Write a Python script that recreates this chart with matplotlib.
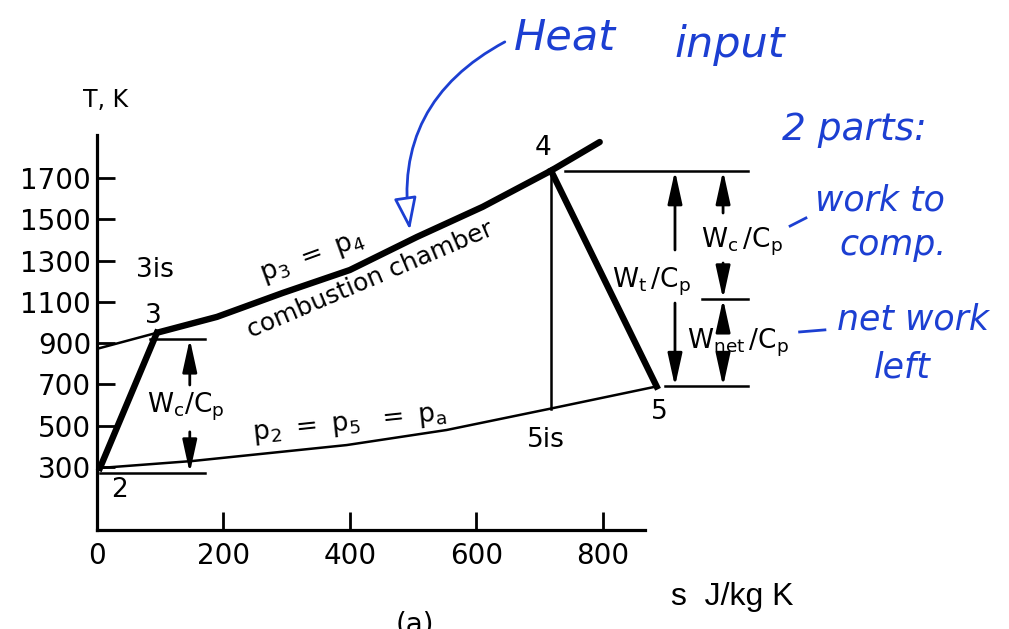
import numpy as np
import matplotlib.pyplot as plt

# gas turbine cycle on T-s axes
# constant pressure line p3 = p4 (first two points: 3is -> 3, thin part)
s_high = [5, 95, 190, 294, 400, 506, 610, 718, 795]
T_high = [876, 950, 1027, 1143, 1254, 1414, 1560, 1735, 1874]
# constant pressure line p2 = p5 = pa
s_low = [5, 152, 395, 553, 718, 885]
T_low = [295, 329, 406, 479, 583, 690]

# states
s_2, T_2 = 5, 295
s_3, T_3 = 95, 950
s_4, T_4 = 718, 1735
s_5, T_5 = 885, 690
s_5is, T_5is = 718, 583
T_3line = 920      # level line drawn at state 3
T_2line = 271      # level line drawn at state 2
T_split = 1114     # Wc / Wnet split on the right

xticks = [0, 200, 400, 600, 800]
yticks = [300, 500, 700, 900, 1100, 1300, 1500, 1700]

blue = '#1c3fd2'
thin = 1.8
thick = 4.6

fig = plt.figure(figsize=(10.09, 6.29), dpi=100)
ax = fig.add_axes([0, 0, 1, 1])
ax.set_xlim(-153, 1442)
ax.set_ylim(-485, 2562)

# axes drawn as spines crossing at the origin
for side in ['top', 'right']:
    ax.spines[side].set_visible(False)
ax.spines['left'].set_position(('data', 0))
ax.spines['bottom'].set_position(('data', -5))
ax.spines['left'].set_bounds(-5, 1908)
ax.spines['bottom'].set_bounds(0, 866)
ax.spines['left'].set_linewidth(2.3)
ax.spines['bottom'].set_linewidth(2.3)
ax.set_xticks(xticks)
ax.set_yticks(yticks)
ax.tick_params(direction='in', length=13, width=2, labelsize=20)
ax.tick_params(axis='y', pad=4)
ax.tick_params(axis='x', pad=9)

# cycle lines
ax.plot(s_high[:2], T_high[:2], color='k', lw=thin)
ax.plot(s_high[1:], T_high[1:], color='k', lw=thick, solid_capstyle='round')
ax.plot(s_low, T_low, color='k', lw=thin)
ax.plot([s_2, s_3], [T_2, T_3], color='k', lw=thick)
ax.plot([s_4, s_5], [T_4, T_5], color='k', lw=thick)
ax.plot([s_4, s_5is], [T_4, T_5is], color='k', lw=thin)

# level lines for the work arrows
ax.plot([84, 171], [T_3line, T_3line], color='k', lw=thin)
ax.plot([5, 171], [T_2line, T_2line], color='k', lw=thin)
ax.plot([740, 1029], [T_4, T_4], color='k', lw=thin)
ax.plot([898, 1029], [T_5, T_5], color='k', lw=thin)
ax.plot([957, 1029], [T_split, T_split], color='k', lw=thin)


def arrow(x, y0, y1):
    ax.annotate('', xy=(x, y1), xytext=(x, y0),
                arrowprops=dict(arrowstyle='-|>,head_length=1.0,head_width=0.22',
                                color='k', lw=2, mutation_scale=20,
                                shrinkA=0, shrinkB=0))


arrow(147, 697, T_3line)
arrow(147, 470, T_2line)
arrow(914, 1351, T_4)
arrow(914, 1094, T_5)
arrow(990, 1530, T_4)
arrow(990, 1288, T_split)
arrow(990, 997, T_split)
arrow(990, 794, T_5)

fs = 19
ax.text(141, 590, r'$\mathregular{W_c/C_p}$', fontsize=fs, ha='center', va='center')
ax.text(877, 1196, r'$\mathregular{W_t\,/C_p}$', fontsize=fs, ha='center', va='center')
ax.text(1020, 1390, r'$\mathregular{W_c\,/C_p}$', fontsize=fs, ha='center', va='center')
ax.text(1013, 900, r'$\mathregular{W_{net}\,/C_p}$', fontsize=fs, ha='center', va='center')
ax.text(400, 503, r'$\mathregular{p_2\ =\ p_5\ \ =\ p_a}$', fontsize=fs,
        ha='center', va='center', rotation=6)
ax.text(341, 1312, r'$\mathregular{p_3\ =\ p_4}$', fontsize=fs,
        ha='center', va='center', rotation=20)
ax.text(432, 1206, 'combustion chamber', fontsize=18, ha='center', va='center', rotation=23)

for label, sx, ty in [('3is', 92, 1254), ('3', 89, 1031), ('2', 36, 188),
                      ('4', 705, 1845), ('5', 890, 566), ('5is', 710, 431)]:
    ax.text(sx, ty, label, fontsize=fs, ha='center', va='center')

ax.text(14, 2078, 'T, K', fontsize=17, ha='center', va='center')
ax.text(1005, -330, 's  J/kg K', fontsize=23, family='Liberation Sans',
        ha='center', va='center')
ax.text(503, -500, '(a)', fontsize=20, ha='center', va='baseline')

# handwritten notes
hand = dict(color=blue, fontstyle='oblique', ha='center', va='center')
ax.text(740, 2378, 'Heat', fontsize=31, **hand)
ax.text(1001, 2344, 'input', fontsize=31, **hand)
ax.text(1198, 1932, '2 parts:', fontsize=27, **hand)
ax.text(1238, 1593, 'work to', fontsize=25, **hand)
ax.text(1258, 1375, 'comp.', fontsize=25, **hand)
ax.text(1290, 1012, 'net work', fontsize=25, **hand)
ax.text(1273, 784, 'left', fontsize=25, **hand)
ax.plot([1096, 1121], [1467, 1506], color=blue, lw=2)
ax.plot([1111, 1151], [954, 964], color=blue, lw=2)
ax.annotate('', xy=(495, 1448), xytext=(645, 2359),
            arrowprops=dict(arrowstyle='-|>,head_length=1.0,head_width=0.35',
                            color=blue, fc='white', lw=2, mutation_scale=20,
                            shrinkA=0, shrinkB=0,
                            connectionstyle='arc3,rad=0.35'))

fig.savefig('out.png', dpi=100)
